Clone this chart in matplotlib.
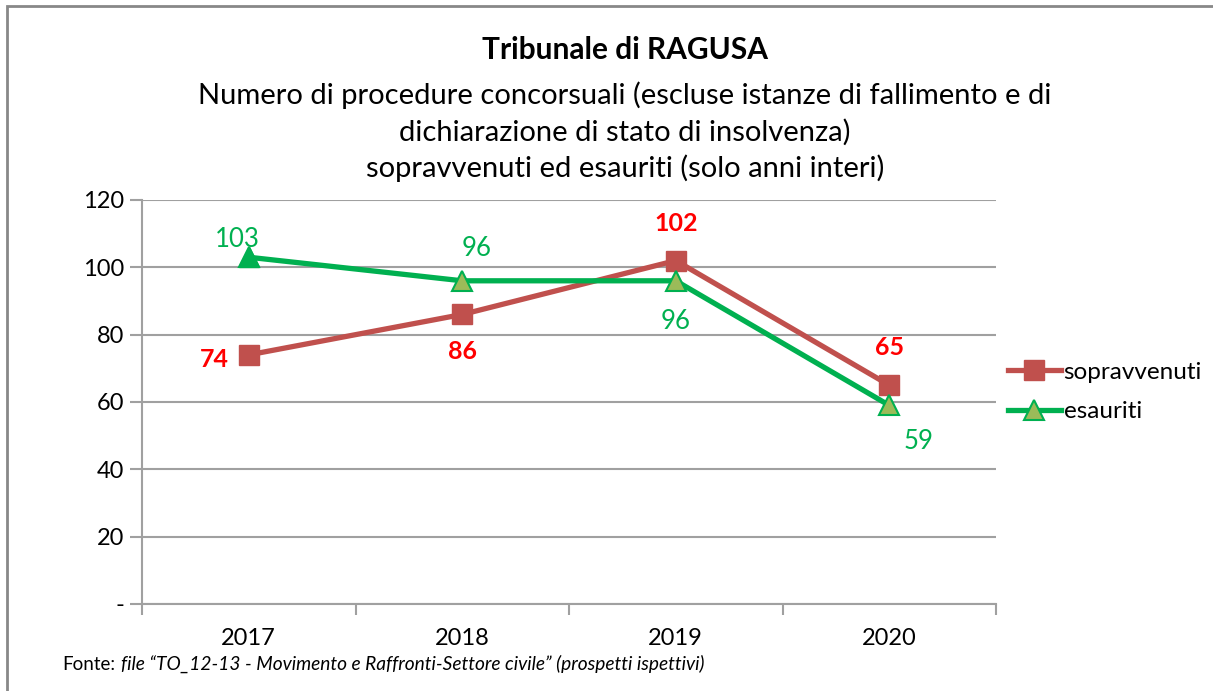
#!/usr/bin/env python3
"""Tribunale di RAGUSA - procedure concorsuali sopravvenute ed esaurite."""

import matplotlib.pyplot as plt
from matplotlib.lines import Line2D
from matplotlib.patches import Rectangle

anni = ["2017", "2018", "2019", "2020"]
sopravvenuti = [74, 86, 102, 65]
esauriti = [103, 96, 96, 59]
# label offsets (points) for each data label
off_sopr = [(-25, -3), (0, -27), (0, 27), (0, 27)]
off_esau = [(-8, 13), (10, 23), (0, -29), (21, -26)]

FONT = ["Lato", "DejaVu Sans"]
RED = "#C0504D"
GREEN = "#00B050"
OLIVE = "#9BBB59"
GRID = "#A0A0A0"

plt.rcParams["font.family"] = FONT

fig = plt.figure(figsize=(12.13, 6.91), dpi=100)
ax = fig.add_axes([142 / 1213, 1 - 604 / 691, 854 / 1213, 404 / 691])

x = range(len(anni))
ax.plot(x, sopravvenuti, color=RED, lw=3.8, marker="s", ms=14,
        mfc=RED, mec=RED, label="sopravvenuti", zorder=3)
ax.plot(x, esauriti, color=GREEN, lw=3.8, marker="^", ms=14,
        mfc=OLIVE, mec=GREEN, mew=1.5, label="esauriti", zorder=4)
# first triangle is drawn solid green in the original
ax.plot([0], esauriti[:1], ls="none", marker="^", ms=14, mfc=GREEN,
        mec=GREEN, zorder=5)

for i, v in enumerate(sopravvenuti):
    ax.annotate(str(v), (i, v), xytext=off_sopr[i], textcoords="offset points",
                ha="center", va="center", color="#FF0000", fontsize=18,
                fontweight="bold")
for i, v in enumerate(esauriti):
    ax.annotate(str(v), (i, v), xytext=off_esau[i], textcoords="offset points",
                ha="center", va="center", color=GREEN, fontsize=18.5)

ax.set_xlim(-0.5, len(anni) - 0.5)
ax.set_ylim(0, 120)
ax.set_yticks(range(0, 121, 20))
ax.set_yticklabels(["-"] + [str(v) for v in range(20, 121, 20)])
ax.set_xticks(x)
ax.set_xticklabels(anni)
ax.set_xticks([i - 0.5 for i in range(len(anni) + 1)], minor=True)
ax.tick_params(axis="x", which="major", length=0, pad=17, labelsize=17)
ax.tick_params(axis="x", which="minor", length=8, color=GRID, width=1.5)
ax.tick_params(axis="y", length=9, color=GRID, width=1.5, pad=4, labelsize=17)
ax.grid(axis="y", color=GRID, lw=1.5)
ax.set_axisbelow(True)
for side in ["top", "right"]:
    ax.spines[side].set_visible(False)
for side in ["left", "bottom"]:
    ax.spines[side].set_color(GRID)
    ax.spines[side].set_linewidth(1.5)

handles = [
    Line2D([], [], color=RED, lw=3.8, marker="s", ms=14, mfc=RED, mec=RED),
    Line2D([], [], color=GREEN, lw=3.8, marker="^", ms=14, mfc=OLIVE,
           mec=GREEN, mew=1.5),
]
fig.legend(handles, ["sopravvenuti", "esauriti"], loc="center left",
           bbox_to_anchor=(998 / 1213, 1 - 392 / 691), frameon=False,
           fontsize=17.5, handlelength=2.2, handletextpad=0.1,
           labelspacing=0.75, borderaxespad=0)

cx = 625 / 1213
fig.text(cx, 1 - 50 / 691, "Tribunale di RAGUSA",
         ha="center", va="center", fontsize=21.5, fontweight="bold")
fig.text(cx, 1 - 132 / 691,
         "Numero di procedure concorsuali (escluse istanze di fallimento e di\n"
         "dichiarazione di stato di insolvenza)\n"
         "sopravvenuti ed esauriti (solo anni interi)",
         ha="center", va="center", fontsize=21, linespacing=1.42)

# source note: plain "Fonte:" followed by the italic file reference
fonte = fig.text(62 / 1213, 1 - 670 / 691, "Fonte:", ha="left",
                 va="baseline", fontsize=13.5)
fig.add_artist(plt.Annotation(
    "file \u201cTO_12-13 - Movimento e Raffronti-Settore civile\u201d "
    "(prospetti ispettivi)", xy=(1, 0), xycoords=fonte,
    xytext=(4, 0), textcoords="offset points", ha="left", va="bottom",
    fontsize=13.8, style="italic"))

# border of the chart area (left and top edges only visible)
fig.add_artist(Rectangle((7 / 1213, -0.1), 1.2, 1 - 6 / 691 + 0.1,
                         transform=fig.transFigure, fill=False,
                         edgecolor="#888888", lw=2))

fig.savefig("out.png", dpi=100)
